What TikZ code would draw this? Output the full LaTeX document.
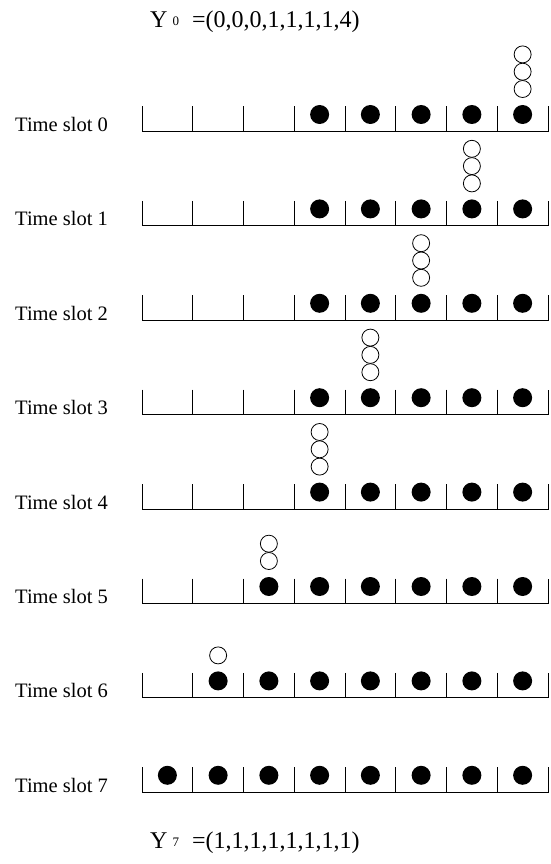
\documentclass[tikz,border=0pt]{standalone}
\usepackage{fontspec}
\setmainfont{Liberation Serif}

\tikzset{
  bin/.style={line width=0.9pt},
  ball/.style={fill=black},
  waiting/.style={draw=black, line width=0.8pt, fill=white},
  occ/.style={anchor=base west, inner sep=0pt, font=\fontsize{24}{24}\selectfont},
  slot/.style={anchor=base west, inner sep=0pt, font=\fontsize{20.5}{20.5}\selectfont},
}
\newcommand{\binw}{50.75}
\newcommand{\occlabel}[2]{Y\hspace{5pt}\raisebox{2pt}{\fontsize{13}{13}\selectfont #1}\hspace{13pt}=(#2)}

\begin{document}
\begin{tikzpicture}[x=1pt,y=-1pt]
\useasboundingbox (0,0) rectangle (550,864);

% occupancy before and after
\node[occ] (ystart) at (150,28) {\occlabel{0}{0,0,0,1,1,1,1,4}};
\node[occ] (yend) at (150,848) {\occlabel{7}{1,1,1,1,1,1,1,1}};

% time slot / first full bin / bin with the queue / queue length
\foreach \t/\f/\s/\n in {0/3/7/3, 1/3/6/3, 2/3/5/3, 3/3/4/3, 4/3/3/3, 5/2/2/2, 6/1/1/1, 7/0/0/0} {
  \pgfmathsetmacro{\yb}{131.5+94.4*\t}
  \node[slot] (slot\t) at (15,\yb) {Time slot \t};
  % bins
  \draw[bin] (142,\yb-25) -- (142,\yb) -- (548,\yb) -- (548,\yb-25);
  \foreach \k in {1,...,7}
    \draw[bin] (142+\k*\binw,\yb-25) -- (142+\k*\binw,\yb);
  % one ball per bin
  \foreach \k in {\f,...,7}
    \fill[ball] (142+\k*\binw+0.5*\binw,\yb-17) circle[radius=9.5];
  % balls still waiting
  \ifnum\n>0
    \foreach \j in {1,...,\n}
      \draw[waiting] (142+\s*\binw+0.5*\binw,\yb-42.5-17.3*\j+17.3) circle[radius=8.5];
  \fi
}

\end{tikzpicture}
\end{document}
